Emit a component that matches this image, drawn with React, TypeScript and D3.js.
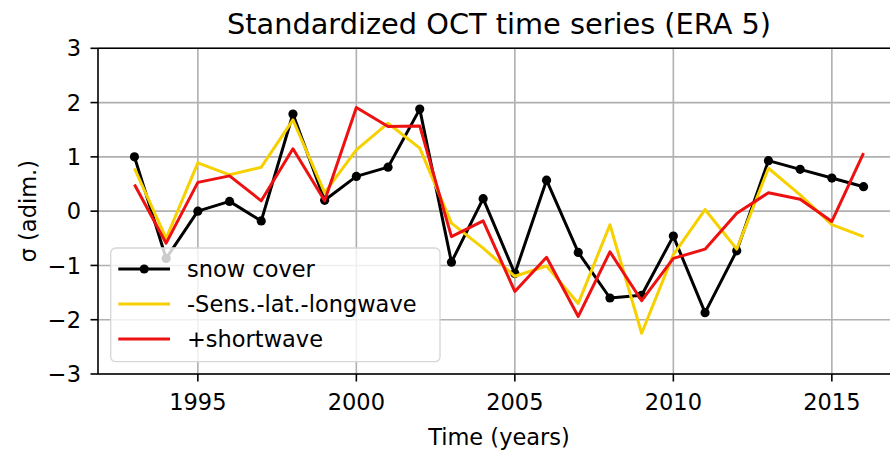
import React from "react";
import * as d3 from "d3";

const years = [1993,1994,1995,1996,1997,1998,1999,2000,2001,2002,2003,2004,2005,2006,2007,2008,2009,2010,2011,2012,2013,2014,2015,2016];
const snowCover = [1.0,-0.87,0.0,0.18,-0.18,1.79,0.2,0.64,0.81,1.88,-0.94,0.23,-1.15,0.57,-0.76,-1.6,-1.55,-0.46,-1.87,-0.73,0.93,0.77,0.61,0.45];
const sensLatLongwave = [0.79,-0.5,0.89,0.67,0.81,1.68,0.34,1.13,1.62,1.16,-0.22,-0.68,-1.2,-1.01,-1.7,-0.25,-2.25,-0.8,0.03,-0.7,0.79,0.3,-0.25,-0.47];
const shortwave = [0.49,-0.59,0.53,0.65,0.19,1.15,0.19,1.91,1.56,1.57,-0.47,-0.18,-1.48,-0.85,-1.94,-0.75,-1.65,-0.87,-0.7,-0.04,0.34,0.22,-0.19,1.07];
const xTicks = [1995,2000,2005,2010,2015];
const yTicks = [-3,-2,-1,0,1,2,3];
const seriesNames = ["snow cover","-Sens.-lat.-longwave","+shortwave"];

const W = 890, H = 452;
const FONT = "DejaVu Sans, sans-serif";

export default function App() {
  const x = d3.scaleLinear().domain([1991.85, 2017.15]).range([98, 900]);
  const y = d3.scaleLinear().domain([-3, 3]).range([374, 48.3]);
  const line = d3.line<number>().x((_, i) => x(years[i])).y(d => y(d));
  const series = [
    { name: seriesNames[0], vals: snowCover, color: "#000000", marker: true },
    { name: seriesNames[1], vals: sensLatLongwave, color: "#f7d000", marker: false },
    { name: seriesNames[2], vals: shortwave, color: "#ee1111", marker: false },
  ];
  const left = 98, right = 900, top = 48.3, bottom = 374;
  const lg = { x: 110.7, y: 248, w: 329.3, h: 113.7 };
  const rows = [269, 304, 339];
  return (
    <svg width={W} height={H} style={{ position: "absolute", left: 0, top: 0, background: "#fff" }} fontFamily={FONT}>
      <rect x={0} y={0} width={W} height={H} fill="#fff" />
      <defs>
        <clipPath id="plot"><rect x={left} y={top} width={right - left} height={bottom - top} /></clipPath>
      </defs>
      {/* grid */}
      {xTicks.map(t => (
        <line key={"gx" + t} x1={x(t)} x2={x(t)} y1={top} y2={bottom} stroke="#b0b0b0" strokeWidth={1.6} />
      ))}
      {yTicks.map(t => (
        <line key={"gy" + t} x1={left} x2={right} y1={y(t)} y2={y(t)} stroke="#b0b0b0" strokeWidth={1.6} />
      ))}
      {/* series */}
      <g clipPath="url(#plot)">
        {series.map(s => (
          <g key={s.name}>
            <path d={line(s.vals) || ""} fill="none" stroke={s.color} strokeWidth={3} strokeLinejoin="round" />
            {s.marker && s.vals.map((v, i) => (
              <circle key={i} cx={x(years[i])} cy={y(v)} r={4.6} fill={s.color} />
            ))}
          </g>
        ))}
      </g>
      {/* spines */}
      <line x1={left} x2={right} y1={top} y2={top} stroke="#000" strokeWidth={1.6} />
      <line x1={left} x2={right} y1={bottom} y2={bottom} stroke="#000" strokeWidth={1.6} />
      <line x1={left} x2={left} y1={top} y2={bottom} stroke="#000" strokeWidth={1.6} />
      {/* ticks */}
      {xTicks.map(t => (
        <g key={"tx" + t}>
          <line x1={x(t)} x2={x(t)} y1={bottom} y2={bottom + 7.5} stroke="#000" strokeWidth={1.6} />
          <text x={x(t)} y={410} textAnchor="middle" fontSize={22.5} fill="#000">{t}</text>
        </g>
      ))}
      {yTicks.map(t => (
        <g key={"ty" + t}>
          <line x1={left - 7.5} x2={left} y1={y(t)} y2={y(t)} stroke="#000" strokeWidth={1.6} />
          <text x={81} y={y(t)} dy="0.36em" textAnchor="end" fontSize={22.5} fill="#000">{t < 0 ? "\u2212" + Math.abs(t) : t}</text>
        </g>
      ))}
      {/* labels */}
      <text x={(left + right) / 2} y={445} textAnchor="middle" fontSize={22.5} fill="#000">Time (years)</text>
      <text transform={`translate(36, ${(top + bottom) / 2}) rotate(-90)`} textAnchor="middle" fontSize={22.5} fill="#000">σ (adim.)</text>
      <text x={(left + right) / 2} y={34} textAnchor="middle" fontSize={28.8} fill="#000">Standardized OCT time series (ERA 5)</text>
      {/* legend */}
      <rect x={lg.x} y={lg.y} width={lg.w} height={lg.h} rx={5} fill="#fff" fillOpacity={0.8} stroke="#d6d6d6" strokeWidth={1.3} />
      {series.map((s, i) => (
        <g key={"lg" + i}>
          <line x1={118.3} x2={170} y1={rows[i]} y2={rows[i]} stroke={s.color} strokeWidth={3} />
          {s.marker && <circle cx={144.2} cy={rows[i]} r={4.6} fill={s.color} />}
          <text x={187} y={rows[i]} dy="0.36em" fontSize={22.5} fill="#000">{s.name}</text>
        </g>
      ))}
    </svg>
  );
}
